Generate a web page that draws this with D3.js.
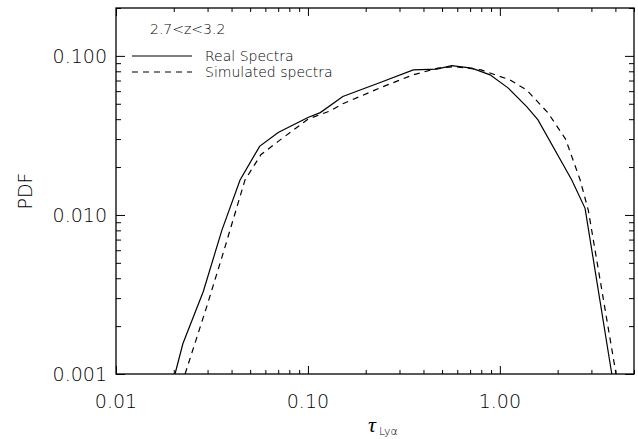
<!DOCTYPE html>
<html>
<head>
<meta charset="utf-8">
<script src="https://cdn.jsdelivr.net/npm/d3@7"></script>
<style>
  body { margin: 0; background: #fff; }
  svg text { font-family: "DejaVu Sans", sans-serif; font-weight: 200; fill: #000; }
</style>
</head>
<body>
<svg id="chart" width="638" height="439"></svg>
<script>
// tau, PDF pairs
const realTau = [0.0203, 0.0223, 0.0285, 0.0356, 0.0443, 0.056, 0.07, 0.1, 0.116, 0.152, 0.238, 0.354, 0.469, 0.561, 0.714, 0.889, 1.107, 1.38, 1.58, 2.37, 2.78, 3.83]
const realPdf = [0.001, 0.00155, 0.0033, 0.008, 0.0166, 0.027, 0.033, 0.041, 0.044, 0.0555, 0.068, 0.0816, 0.0825, 0.0869, 0.0837, 0.076, 0.0627, 0.048, 0.0396, 0.0166, 0.011, 0.001]

const simTau = [0.0229, 0.0297, 0.0362, 0.047, 0.057, 0.07, 0.1, 0.13, 0.152, 0.238, 0.353, 0.475, 0.58, 0.8, 1.13, 1.38, 1.78, 2.2, 2.62, 2.89, 4.03]
const simPdf = [0.001, 0.00265, 0.00577, 0.0166, 0.024, 0.029, 0.04, 0.045, 0.05, 0.063, 0.076, 0.0837, 0.0857, 0.0816, 0.0706, 0.061, 0.0439, 0.03, 0.0166, 0.0107, 0.001]

const xTicks = [0.01, 0.1, 1]
const xTickLabels = ['0.01', '0.10', '1.00']
const yTicks = [0.001, 0.01, 0.1]
const yTickLabels = ['0.001', '0.010', '0.100']

const mLeft = 116, mRight = 634, mTop = 8, mBottom = 374

const svg = d3.select('#chart')

var x = d3.scaleLog().domain([0.01, 5]).range([mLeft, mRight])
var y = d3.scaleLog().domain([0.001, 0.2]).range([mBottom, mTop])

// minor ticks: 2..9 of each decade inside the domain
const minorX = []
xTicks.forEach(d => { for (let k = 2; k <= 9; k++) if (d * k <= 5) minorX.push(d * k) })
const minorY = []
yTicks.forEach(d => { for (let k = 2; k <= 9; k++) if (d * k <= 0.2) minorY.push(d * k) })

const axisStyle = g => {
  g.select('.domain').remove()
  g.selectAll('line').attr('stroke', '#000').attr('stroke-width', 1)
}

// bottom + top
svg.append('g').attr('transform', `translate(0,${mBottom})`)
  .call(d3.axisTop(x).tickValues(xTicks).tickSize(8).tickFormat('')).call(axisStyle)
svg.append('g').attr('transform', `translate(0,${mBottom})`)
  .call(d3.axisTop(x).tickValues(minorX).tickSize(4).tickFormat('')).call(axisStyle)
svg.append('g').attr('transform', `translate(0,${mTop})`)
  .call(d3.axisBottom(x).tickValues(xTicks).tickSize(8).tickFormat('')).call(axisStyle)
svg.append('g').attr('transform', `translate(0,${mTop})`)
  .call(d3.axisBottom(x).tickValues(minorX).tickSize(4).tickFormat('')).call(axisStyle)

// left + right
svg.append('g').attr('transform', `translate(${mLeft},0)`)
  .call(d3.axisRight(y).tickValues(yTicks).tickSize(9).tickFormat('')).call(axisStyle)
svg.append('g').attr('transform', `translate(${mLeft},0)`)
  .call(d3.axisRight(y).tickValues(minorY).tickSize(5).tickFormat('')).call(axisStyle)
svg.append('g').attr('transform', `translate(${mRight},0)`)
  .call(d3.axisLeft(y).tickValues(yTicks).tickSize(9).tickFormat('')).call(axisStyle)
svg.append('g').attr('transform', `translate(${mRight},0)`)
  .call(d3.axisLeft(y).tickValues(minorY).tickSize(5).tickFormat('')).call(axisStyle)

svg.append('rect')
  .attr('x', mLeft).attr('y', mTop)
  .attr('width', mRight - mLeft).attr('height', mBottom - mTop)
  .attr('fill', 'none').attr('stroke', '#000').attr('stroke-width', 1.3)

// tick labels
svg.selectAll('.xlab').data(xTicks).enter().append('text')
  .attr('x', d => x(d)).attr('y', mBottom + 34)
  .attr('text-anchor', 'middle').attr('font-size', 19)
  .text((d, i) => xTickLabels[i])
svg.selectAll('.ylab').data(yTicks).enter().append('text')
  .attr('x', mLeft - 9).attr('y', d => y(d) + 7)
  .attr('text-anchor', 'end').attr('font-size', 19)
  .text((d, i) => yTickLabels[i])

// axis titles
const xt = svg.append('text').attr('x', 383).attr('y', 432).attr('text-anchor', 'middle')
xt.append('tspan').attr('font-size', 22).attr('font-style', 'italic')
  .style('font-family', '"Liberation Serif", serif').style('font-weight', 'normal').text('τ')
xt.append('tspan').attr('font-size', 11).attr('dy', 3).attr('dx', 3).text('Lyα')

svg.append('text')
  .attr('transform', `translate(32,${(mTop + mBottom) / 2}) rotate(-90)`)
  .attr('text-anchor', 'middle').attr('font-size', 19)
  .text('PDF')

// curves
var line = d3.line().x(d => x(d[0])).y(d => y(d[1]))

svg.append('path')
  .datum(d3.zip(realTau, realPdf))
  .attr('d', line)
  .attr('fill', 'none').attr('stroke', '#000').attr('stroke-width', 1.2)

svg.append('path')
  .datum(d3.zip(simTau, simPdf))
  .attr('d', line)
  .attr('fill', 'none').attr('stroke', '#000').attr('stroke-width', 1.2)
  .attr('stroke-dasharray', '6,5')

// legend
svg.append('text').attr('x', 150).attr('y', 34).attr('font-size', 14).text('2.7<z<3.2')
const legend = [['Real Spectra', null], ['Simulated spectra', '6,5']]
legend.forEach((e, i) => {
  const ly = 56 + i * 16
  svg.append('line')
    .attr('x1', 132).attr('x2', 192).attr('y1', ly).attr('y2', ly)
    .attr('stroke', '#000').attr('stroke-width', 1.2)
    .attr('stroke-dasharray', e[1])
  svg.append('text').attr('x', 205).attr('y', ly + 5).attr('font-size', 14).text(e[0])
})
</script>
</body>
</html>
